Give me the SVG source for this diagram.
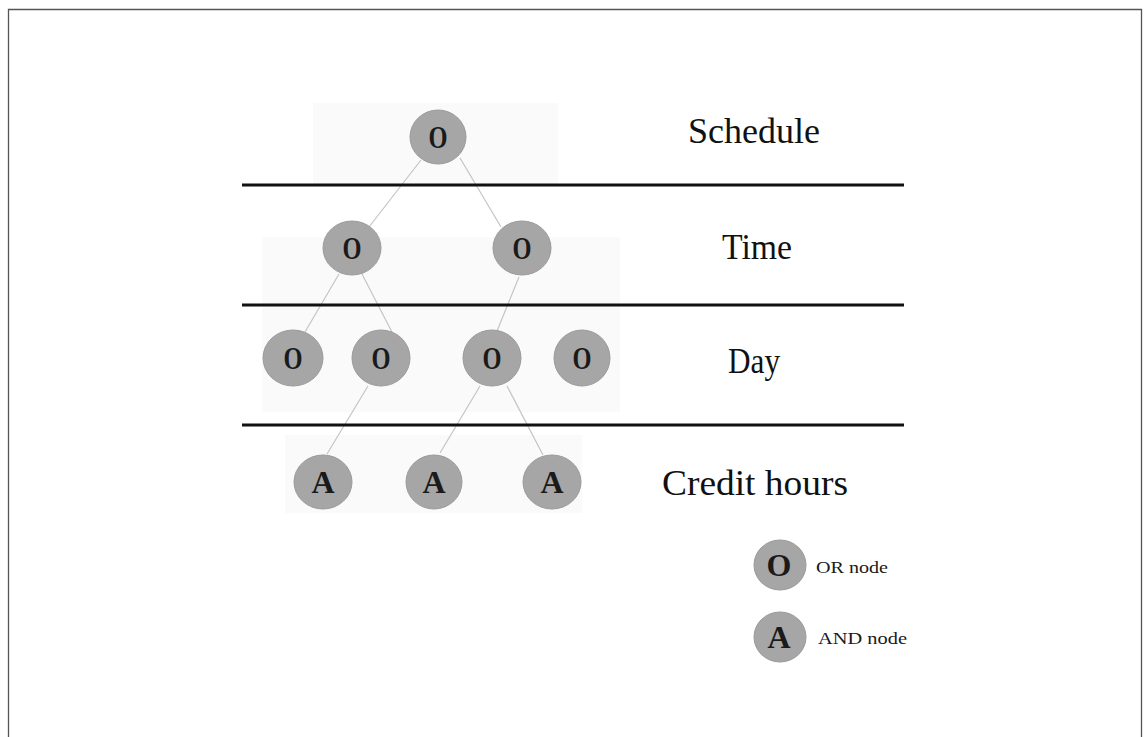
<svg xmlns="http://www.w3.org/2000/svg" width="1144" height="737" viewBox="0 0 1144 737">
<style>
.node{fill:#a6a6a6;stroke:#9a9a9a;stroke-width:1}
.nt{font-family:"Liberation Serif","DejaVu Serif",serif;font-size:32px;font-weight:bold;fill:#1a1a1a;text-anchor:middle}
.lvl{font-family:"Liberation Serif","DejaVu Serif",serif;font-size:35px;fill:#111}
.leg{font-family:"Liberation Serif","DejaVu Serif",serif;font-size:17px;fill:#1a1a1a}
.edge{stroke:#c4c4c4;stroke-width:1.2;fill:none}
.sep{stroke:#111;stroke-width:3}
.bg{fill:#fafafa}
</style>
<rect width="1144" height="737" fill="#fff"/>
<path d="M8.5 745 V9.5 H1141.5 V745" fill="none" stroke="#555" stroke-width="1.3"/>
<g id="background">
<rect class="bg" x="313" y="103" width="245" height="82"/>
<rect class="bg" x="262" y="237" width="358" height="68"/>
<rect class="bg" x="262" y="306" width="358" height="106"/>
<rect class="bg" x="285" y="435" width="297" height="78"/>
</g>
<g id="connectors">
<line class="edge" x1="421" y1="160" x2="369" y2="227"/>
<line class="edge" x1="460" y1="158" x2="501" y2="227"/>
<line class="edge" x1="339" y1="274" x2="305" y2="332"/>
<line class="edge" x1="362" y1="274" x2="394" y2="336"/>
<line class="edge" x1="519" y1="277" x2="497" y2="331"/>
<line class="edge" x1="368" y1="386" x2="327" y2="454"/>
<line class="edge" x1="480" y1="386" x2="440" y2="453"/>
<line class="edge" x1="507" y1="386" x2="543" y2="455"/>
</g>
<g id="separators">
<line class="sep" x1="242" y1="185" x2="904" y2="185"/>
<line class="sep" x1="242" y1="305" x2="904" y2="305"/>
<line class="sep" x1="242" y1="425" x2="904" y2="425"/>
</g>
<g id="n-root"><ellipse class="node" cx="438" cy="137" rx="28" ry="27"/><text class="nt" x="438" y="148" textLength="19" lengthAdjust="spacingAndGlyphs">O</text></g>
<g id="n-time1"><ellipse class="node" cx="352" cy="248" rx="29" ry="27"/><text class="nt" x="352" y="259" textLength="19" lengthAdjust="spacingAndGlyphs">O</text></g>
<g id="n-time2"><ellipse class="node" cx="522" cy="248" rx="29" ry="27"/><text class="nt" x="522" y="259" textLength="19" lengthAdjust="spacingAndGlyphs">O</text></g>
<g id="n-day1"><ellipse class="node" cx="293" cy="358" rx="30" ry="28"/><text class="nt" x="293" y="369" textLength="19" lengthAdjust="spacingAndGlyphs">O</text></g>
<g id="n-day2"><ellipse class="node" cx="381" cy="358" rx="29" ry="28"/><text class="nt" x="381" y="369" textLength="19" lengthAdjust="spacingAndGlyphs">O</text></g>
<g id="n-day3"><ellipse class="node" cx="492" cy="358" rx="29" ry="28"/><text class="nt" x="492" y="369" textLength="19" lengthAdjust="spacingAndGlyphs">O</text></g>
<g id="n-day4"><ellipse class="node" cx="582" cy="358" rx="28" ry="28"/><text class="nt" x="582" y="369" textLength="19" lengthAdjust="spacingAndGlyphs">O</text></g>
<g id="n-a1"><ellipse class="node" cx="323" cy="482" rx="29" ry="27"/><text class="nt" x="323" y="493">A</text></g>
<g id="n-a2"><ellipse class="node" cx="434" cy="482" rx="28" ry="27"/><text class="nt" x="434" y="493">A</text></g>
<g id="n-a3"><ellipse class="node" cx="552" cy="482" rx="29" ry="27"/><text class="nt" x="552" y="493">A</text></g>
<g id="labels">
<text class="lvl" x="688" y="143" textLength="132" lengthAdjust="spacingAndGlyphs">Schedule</text>
<text class="lvl" x="722" y="259" textLength="70" lengthAdjust="spacingAndGlyphs">Time</text>
<text class="lvl" x="728" y="373" textLength="52" lengthAdjust="spacingAndGlyphs">Day</text>
<text class="lvl" x="662" y="495" textLength="186" lengthAdjust="spacingAndGlyphs">Credit hours</text>
</g>
<g id="legend-or"><ellipse class="node" cx="780" cy="565" rx="26" ry="25"/><text class="nt" x="779" y="576" font-size="31">O</text><text class="leg" x="816" y="573" textLength="72" lengthAdjust="spacingAndGlyphs">OR node</text></g>
<g id="legend-and"><ellipse class="node" cx="780" cy="637" rx="26" ry="25"/><text class="nt" x="779" y="648" font-size="31">A</text><text class="leg" x="818" y="644" textLength="89" lengthAdjust="spacingAndGlyphs">AND node</text></g>
</svg>
